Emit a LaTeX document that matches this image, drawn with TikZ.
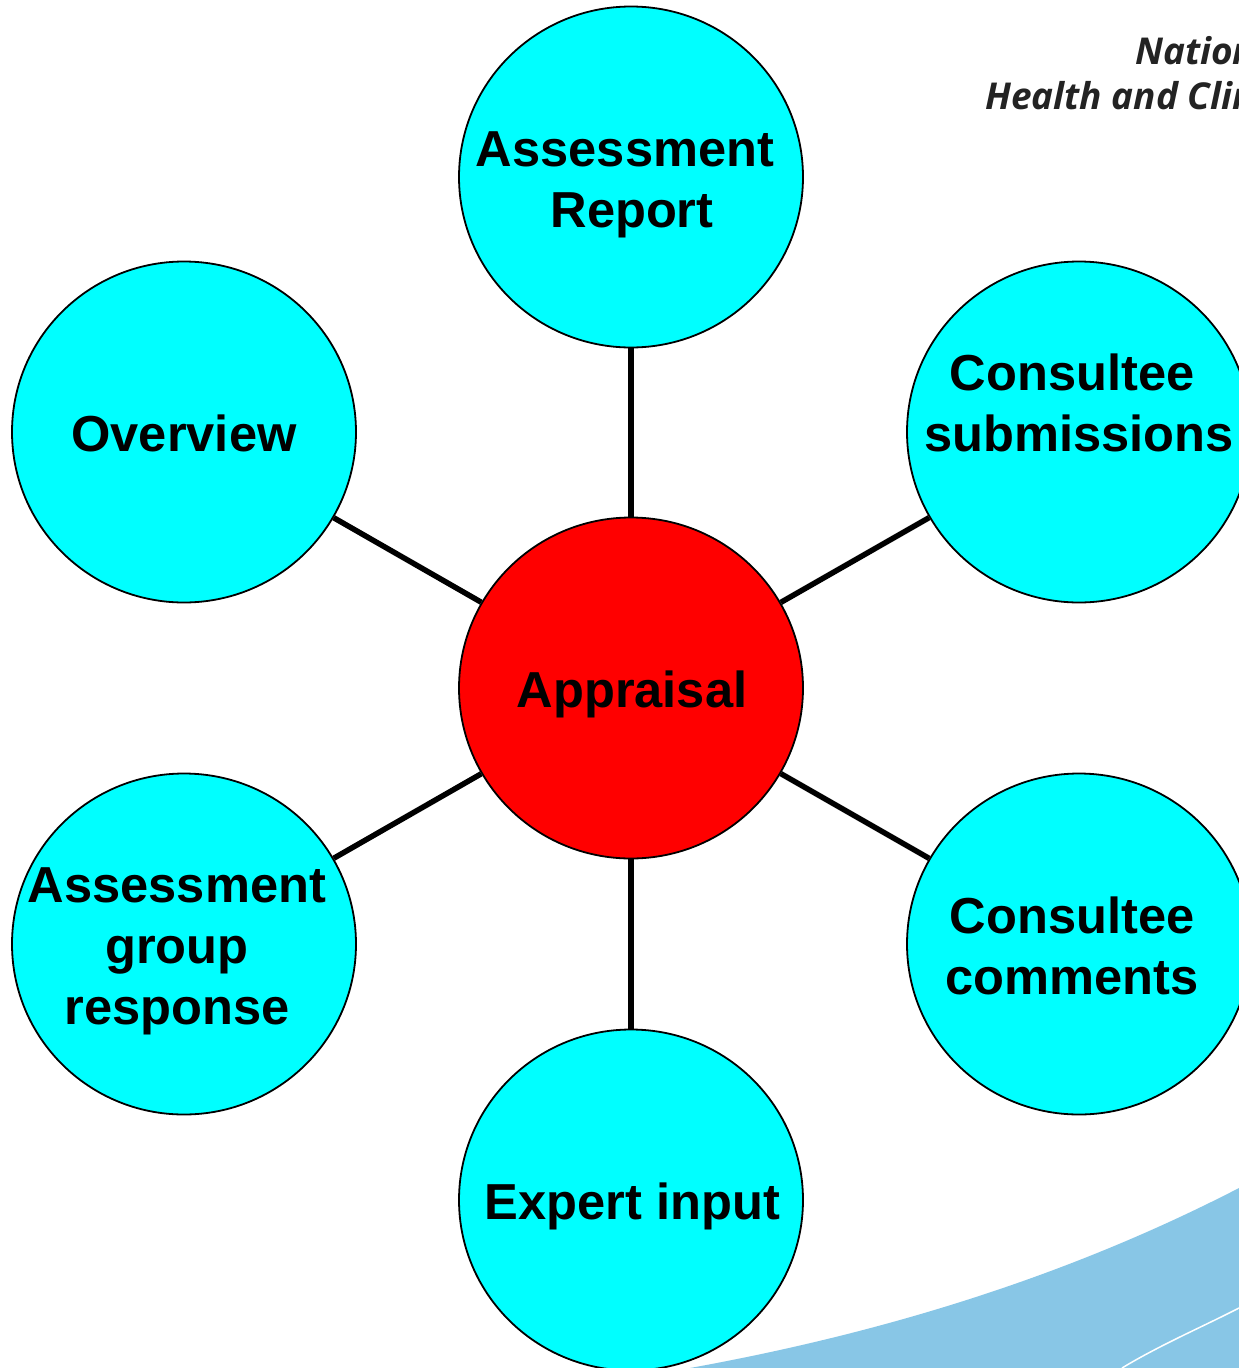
\documentclass[tikz,border=0pt]{standalone}
\usepackage{fontspec}
\setmainfont{Liberation Sans}
\newfontfamily\logofont{Open Sans}
\usetikzlibrary{shapes.geometric}
\newcommand{\ls}{\rule[-11pt]{0pt}{61pt}}
\tikzset{
  bubble/.style={ellipse,draw=black,line width=1.8pt,inner xsep=-90pt,inner ysep=-60pt,minimum width=344pt,minimum height=341pt,
    align=center,font=\fontsize{50.6}{61}\selectfont\bfseries},
  leaf/.style={bubble,fill=cyan1},
  hub/.style={bubble,fill=red1},
  spoke/.style={line width=5.5pt,draw=black},
  logo/.style={anchor=base west,inner sep=0pt,text=logogrey,font=\fontsize{37}{45}\selectfont\logofont\bfseries\itshape}
}
\definecolor{cyan1}{RGB}{0,255,255}
\definecolor{red1}{RGB}{255,0,0}
\definecolor{swoosh}{RGB}{136,198,230}
\definecolor{logogrey}{RGB}{35,35,35}
\begin{document}
\begin{tikzpicture}[x=1pt,y=-1pt]
\useasboundingbox (0,0) rectangle (1239,1368);
\clip (0,0) rectangle (1239,1368);
\fill[white] (0,0) rectangle (1239,1368);
% background swoosh
\fill[swoosh] (690,1368) .. controls (900,1330) and (1080,1270) .. (1239,1188) -- (1239,1368) -- cycle;
\draw[white,line width=1.5pt] (1122,1368) .. controls (1160,1345) and (1200,1328) .. (1239,1308);
% logo
\node[logo] (logoa) at (1135,64) {Nation};
\node[logo] (logob) at (985,109) {Health and Clin};
% bubbles
\node[hub]  (appraisal)  at (631,688) {\ls\kern2pt Appraisal};
\node[leaf] (report)     at (631,177) {\ls Assessment\kern12pt\\\ls\kern2pt Report};
\node[leaf] (submit)     at (1079,432) {\ls Consultee\kern14pt\\\ls submissions\\\ls};
\node[leaf] (comments)   at (1079,944) {\ls Consultee\kern14pt\\\ls comments\kern14pt};
\node[leaf] (expert)     at (631,1200) {\ls\kern3pt Expert input};
\node[leaf] (response)   at (184,944) {\ls Assessment\kern14pt\\\ls group\kern14pt\\\ls response\kern14pt};
\node[leaf] (overview)   at (184,432) {\ls Overview};
% connectors
\foreach \n in {report,submit,comments,expert,response,overview}
  \draw[spoke] (appraisal) -- (\n);
\end{tikzpicture}
\end{document}
